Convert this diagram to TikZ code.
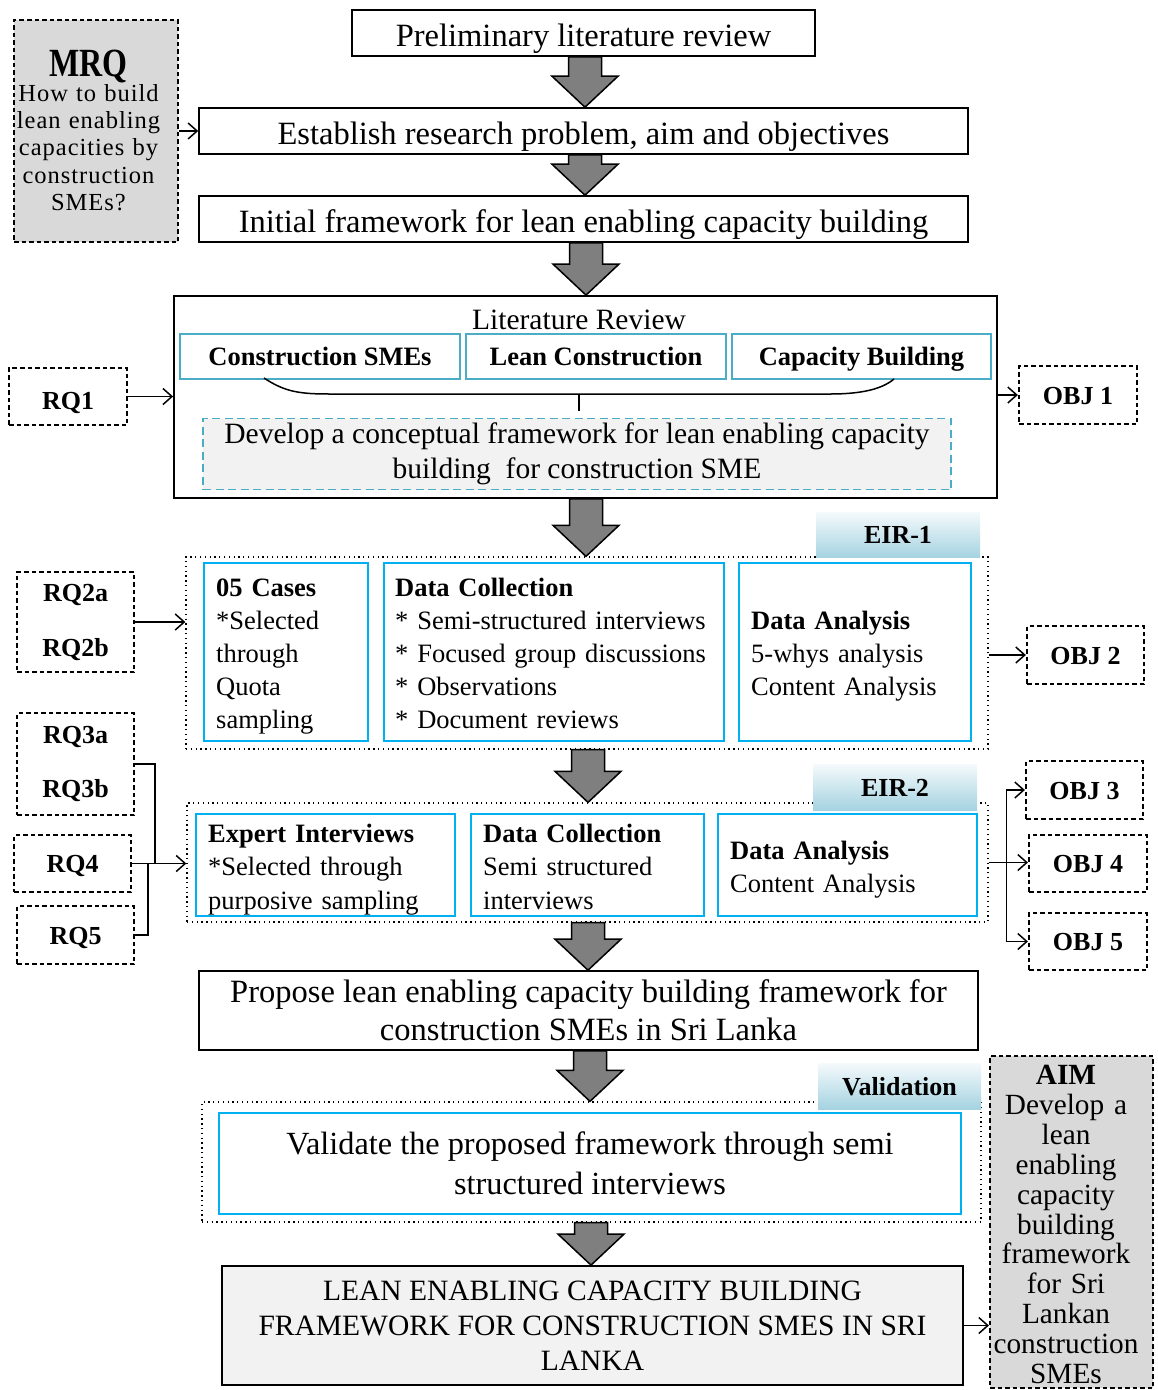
\documentclass[tikz,border=0pt]{standalone}
\usepackage{fontspec}
\setmainfont{Liberation Serif}
\newfontfamily\spacedserif[LetterSpace=4]{Liberation Serif}
\newfontface\mrqhead[FakeStretch=0.8]{Liberation Serif Bold}
\usetikzlibrary{arrows.meta,calc}

\definecolor{teal1}{HTML}{4BACC6}
\definecolor{blue1}{HTML}{00B0F0}
\definecolor{arrowgray}{HTML}{7F7F7F}
\definecolor{boxgray}{HTML}{D9D9D9}
\definecolor{palegray}{HTML}{F2F2F2}
\definecolor{tabtop}{HTML}{F5FAFC}
\definecolor{tabbot}{HTML}{A5D3E1}

\newcommand\fsz[2]{\fontsize{#1}{#2}\selectfont}

% gray block arrow from the bottom of one node to the top of the next
\newcommand\blockarrow[3]{%
  \draw[blk] let \p1=(#2.south), \p2=(#3.north) in
    ({#1pt-16.5pt},\y1) -- ({#1pt+16.5pt},\y1) -- ({#1pt+16.5pt},\y2+31pt)
    -- ({#1pt+33pt},\y2+31pt) -- (#1pt,\y2) -- ({#1pt-33pt},\y2+31pt)
    -- ({#1pt-16.5pt},\y2+31pt) -- cycle;}

\begin{document}
\begin{tikzpicture}[x=1pt,y=-1pt,
  mainbox/.style={draw, line width=1.6pt, inner sep=0pt, align=center, font=\fsz{32.5}{38}},
  oneline/.style={text height=27.5pt, text depth=1.5pt},
  tealbox/.style={draw=teal1, line width=2pt, inner sep=0pt, minimum height=45pt,
    text height=19pt, text depth=1pt, font=\bfseries\fsz{26.5}{30}},
  bluebox/.style={draw=blue1, line width=2pt, inner sep=0pt},
  btext/.style={inner sep=0pt, align=left, text width=330pt, anchor=base west, font=\fsz{26.5}{33}},
  rqbox/.style={draw, line width=2.2pt, dash pattern=on 4.5pt off 3pt, inner sep=0pt, align=center,
    font=\bfseries\fsz{26}{27}},
  rqone/.style={rqbox, text height=19pt, text depth=1pt},
  region/.style={draw, line width=1.3pt, dash pattern=on 1.3pt off 3.5pt, inner sep=0pt},
  tabbox/.style={top color=tabtop, bottom color=tabbot, draw=none, inner sep=0pt,
    text height=19pt, text depth=1pt, font=\bfseries\fsz{26}{30}},
  conn/.style={line width=1.5pt, -{Straight Barb[length=9pt,width=16pt,line width=1.5pt]}},
  plain/.style={line width=1.5pt},
  blk/.style={fill=arrowgray, draw=black, line width=1.5pt, line join=miter}]

\useasboundingbox (0,0) rectangle (1158,1390);

% ---------- top sequence ----------
\node[mainbox, oneline, minimum width=463pt, minimum height=46pt] (prelim) at (583.5,33) {Preliminary literature review};
\node[mainbox, oneline, minimum width=769pt, minimum height=46pt] (est) at (583.5,131) {Establish research problem, aim and objectives};
\node[mainbox, oneline, minimum width=769pt, minimum height=46pt] (init) at (583.5,219) {Initial framework for lean enabling capacity building};

\node[rqbox, fill=boxgray, minimum width=164pt, minimum height=222pt] (mrq) at (96,131) {};
\node[inner sep=0pt, text width=164pt, align=center, anchor=base, font=\spacedserif\fsz{24.5}{27.4}] (mrqtext) at (88.5,76)
  {{\mrqhead\fsz{40}{40}MRQ}\\[-2.4pt]How to build\\lean enabling\\capacities by\\construction\\SMEs?};

% ---------- literature review ----------
\node[draw, line width=1.8pt, minimum width=823pt, minimum height=202pt] (lit) at (585.5,397) {};
\node[font=\fsz{29.5}{34}, inner sep=0pt] (littitle) at (579,320) {Literature Review};
\node[tealbox, minimum width=280pt] (cs) at (320,356.5) {Construction SMEs};
\node[tealbox, minimum width=260pt] (lc) at (596,356.5) {Lean Construction};
\node[tealbox, minimum width=259pt] (cb) at (861.5,356.5) {Capacity Building};
\draw[plain] (264,378) .. controls (285,392) and (300,394) .. (330,394) -- (830,394)
  .. controls (862,394) and (882,389) .. (894,379);
\draw[plain] (579,394) -- (579,411);
\node[draw=teal1, fill=palegray, line width=1.8pt, dash pattern=on 8pt off 4.5pt, inner sep=0pt,
  minimum width=748pt, minimum height=71pt, align=center, font=\fsz{29.5}{35}] (concept) at (577,454)
  {Develop a conceptual framework for lean enabling capacity\\building\ \ for construction SME};

\node[rqone, text height=26pt, minimum width=118pt, minimum height=57pt] (rq1) at (68,396.5) {RQ1};
\node[rqone, minimum width=118pt, minimum height=58pt] (obj1) at (1078,395) {OBJ 1};

% ---------- EIR-1 ----------
\node[region, minimum width=802pt, minimum height=192pt] (eir1) at (587,653) {};
\node[tabbox, minimum width=164pt, minimum height=45pt] (tab1) at (898,534.5) {EIR-1};
\node[bluebox, minimum width=164pt, minimum height=178pt] (cases) at (286,652) {};
\node[bluebox, minimum width=340pt, minimum height=178pt] (dc1) at (554,652) {};
\node[bluebox, minimum width=232pt, minimum height=178pt] (da1) at (855,652) {};
\node[btext] (casestext) at ($(cases.north west)+(13,34)$)
  {\textbf{05 Cases}\\{*}Selected\\through\\Quota\\sampling};
\node[btext] (dc1text) at ($(dc1.north west)+(12,34)$)
  {\textbf{Data Collection}\\{*} Semi-structured interviews\\{*} Focused group discussions\\{*} Observations\\{*} Document reviews};
\node[btext] (da1text) at ($(da1.north west)+(13,67)$)
  {\textbf{Data Analysis}\\5-whys analysis\\Content Analysis};

\node[rqbox, minimum width=117pt, minimum height=100pt] (rq2) at (75.5,622) {RQ2a\\[28pt]RQ2b};
\node[rqone, minimum width=117pt, minimum height=58pt] (obj2) at (1085.5,655) {OBJ 2};

% ---------- EIR-2 ----------
\node[region, minimum width=801pt, minimum height=119pt] (eir2) at (587.5,862.5) {};
\node[tabbox, minimum width=164pt, minimum height=46pt] (tab2) at (895,787) {EIR-2};
\node[bluebox, minimum width=259pt, minimum height=102pt] (ei) at (325.5,865) {};
\node[bluebox, minimum width=233pt, minimum height=102pt] (dc2) at (587.5,865) {};
\node[bluebox, minimum width=259pt, minimum height=102pt] (da2) at (847.5,865) {};
\node[btext, font=\fsz{26.5}{33.5}] (eitext) at ($(ei.north west)+(13,29)$)
  {\textbf{Expert Interviews}\\{*}Selected through\\purposive sampling};
\node[btext, font=\fsz{26.5}{33.5}] (dc2text) at ($(dc2.north west)+(13,29)$)
  {\textbf{Data Collection}\\Semi structured\\interviews};
\node[btext, font=\fsz{26.5}{33.5}] (da2text) at ($(da2.north west)+(13,46)$)
  {\textbf{Data Analysis}\\Content Analysis};

\node[rqbox, minimum width=117pt, minimum height=102pt] (rq3) at (75.5,764) {RQ3a\\[27pt]RQ3b};
\node[rqone, minimum width=117pt, minimum height=57pt] (rq4) at (72.5,863.5) {RQ4};
\node[rqone, minimum width=117pt, minimum height=58pt] (rq5) at (75.5,935) {RQ5};
\node[rqone, minimum width=117pt, minimum height=58pt] (obj3) at (1084.5,790) {OBJ 3};
\node[rqone, minimum width=118pt, minimum height=57pt] (obj4) at (1088,863.5) {OBJ 4};
\node[rqone, minimum width=118pt, minimum height=57pt] (obj5) at (1088,941.5) {OBJ 5};

% ---------- proposal and validation ----------
\node[mainbox, minimum width=779pt, minimum height=79pt] (propose) at (588.5,1010.5)
  {Propose lean enabling capacity building framework for\\construction SMEs in Sri Lanka};

\node[region, minimum width=779pt, minimum height=120pt] (val) at (591.5,1162) {};
\node[tabbox, minimum width=163pt, minimum height=46pt] (tab3) at (899.5,1086) {Validation};
\node[draw=blue1, line width=2pt, inner sep=0pt, minimum width=742pt, minimum height=101pt,
  align=center, font=\fsz{32.3}{40}] (valbox) at (590,1163)
  {Validate the proposed framework through semi\\structured interviews};

\node[draw, fill=palegray, line width=1.8pt, inner sep=0pt, minimum width=741pt, minimum height=119pt,
  align=center, font=\fsz{29.5}{35}] (final) at (592.5,1325.5)
  {LEAN ENABLING CAPACITY BUILDING\\FRAMEWORK FOR CONSTRUCTION SMES IN SRI\\LANKA};

\node[rqbox, fill=boxgray, minimum width=163pt, minimum height=332pt] (aim) at (1071.5,1222) {};
\node[inner sep=0pt, text width=163pt, align=center, anchor=base, font=\fsz{29.3}{29.8}] (aimtext) at (1066,1084)
  {{\bfseries AIM}\\[1pt]Develop a\\lean\\enabling\\capacity\\building\\framework\\for Sri\\Lankan\\construction\\SMEs};

% ---------- block arrows ----------
\blockarrow{585}{prelim}{est}
\blockarrow{585}{est}{init}
\blockarrow{586}{init}{lit}
\blockarrow{586}{lit}{eir1}
\blockarrow{588}{eir1}{eir2}
\blockarrow{588}{eir2}{propose}
\blockarrow{590}{propose}{val}
\blockarrow{591}{val}{final}

% ---------- connectors ----------
\draw[conn] (mrq.east) -- (est.west);
\draw[conn] (rq1.east) -- (rq1.east -| lit.west);
\draw[conn] (lit.east |- obj1.west) -- (obj1.west);
\draw[conn] (rq2.east) -- (rq2.east -| eir1.west);
\draw[conn] (eir1.east |- obj2.west) -- (obj2.west);

\coordinate (jl1) at ($(rq4.east)+(23,0)$);
\coordinate (jl2) at ($(rq4.east)+(16,0)$);
\draw[plain] (rq3.east) -| (jl1);
\draw[plain] (rq5.east) -| (jl2);
\draw[conn] (rq4.east) -- (rq4.east -| eir2.west);

\coordinate (jr) at ($(eir2.east)+(18,0)$);
\draw[plain] (eir2.east) -- (jr);
\draw[conn] (jr) |- (obj3.west);
\draw[conn] (jr) |- (obj5.west);
\draw[conn] (jr) -- (jr -| obj4.west);

\draw[conn] (final.east) -- (final.east -| aim.west);

\end{tikzpicture}
\end{document}
